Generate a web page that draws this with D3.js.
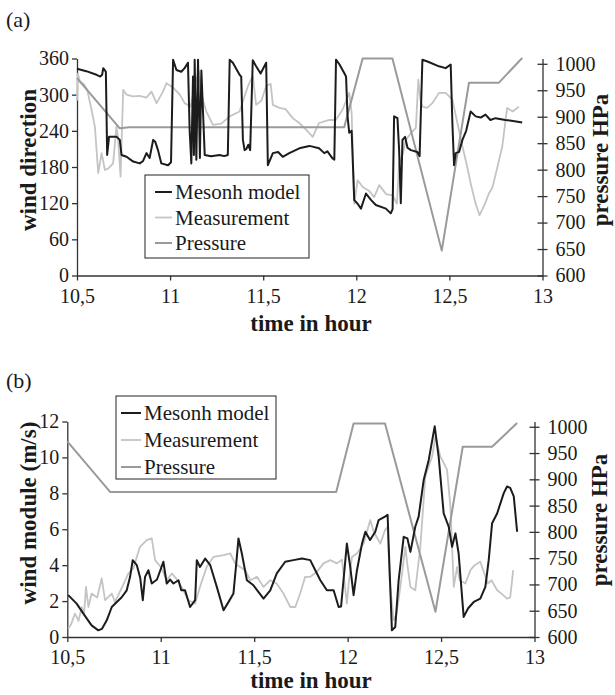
<!DOCTYPE html>
<html>
<head>
<meta charset="utf-8">
<script src="https://cdn.jsdelivr.net/npm/d3@7"></script>
<style>
body { margin: 0; background: #fff; }
svg text { font-family: "Liberation Serif", "Times New Roman", serif; fill: #1a1a1a; }
.axis path, .axis line { stroke: #333; stroke-width: 1.3; }
.axis text { font-size: 20px; }
.title { font-size: 23px; font-weight: bold; }
.panel { font-size: 22px; }
.legend text { font-size: 21px; }
</style>
</head>
<body>
<div id="chart"></div>
<script>
// ---- data: [time in hour, value] ----
var timeTicks = [10.5, 11, 11.5, 12, 12.5, 13],
  dirTicks = [0, 60, 120, 180, 240, 300, 360],
  speedTicks = [0, 2, 4, 6, 8, 10, 12],
  pressTicks = [600, 650, 700, 750, 800, 850, 900, 950, 1000],
  seriesNames = ["Mesonh model", "Measurement", "Pressure"];

var dirModel = [[10.50,343],[10.55,339],[10.605,333],[10.625,330],[10.635,333],[10.641,344],[10.655,338],[10.662,200],
  [10.672,230],[10.713,230],[10.73,225],[10.739,200],[10.766,197],[10.802,189],[10.837,186],[10.855,190],[10.873,203],
  [10.89,195],[10.909,225],[10.92,222],[10.935,208],[10.953,186],[10.989,183],[11.005,188],[11.016,358],[11.034,341],
  [11.06,338],[11.078,344],[11.096,353],[11.105,241],[11.114,186],[11.123,330],[11.128,200],[11.132,358],[11.141,192],
  [11.15,358],[11.16,195],[11.168,340],[11.186,200],[11.22,198],[11.266,200],[11.29,198],[11.31,200],[11.32,358],
  [11.337,353],[11.373,333],[11.382,330],[11.391,225],[11.40,208],[11.41,210],[11.42,217],[11.43,208],[11.444,357],
  [11.462,347],[11.486,335],[11.516,353],[11.525,183],[11.552,203],[11.58,205],[11.605,197],[11.64,203],[11.694,211],
  [11.748,215],[11.80,211],[11.828,203],[11.845,206],[11.873,194],[11.882,192],[11.891,358],[11.91,350],[11.935,336],
  [11.945,330],[11.953,264],[11.962,237],[11.975,240],[11.989,125],[12.007,119],[12.025,111],[12.052,136],[12.08,125],
  [12.105,117],[12.159,111],[12.185,103],[12.195,110],[12.203,264],[12.221,261],[12.23,208],[12.239,120],[12.248,225],
  [12.262,230],[12.275,212],[12.293,208],[12.328,205],[12.34,198],[12.355,358],[12.382,355],[12.444,347],[12.48,344],
  [12.507,350],[12.516,253],[12.525,183],[12.534,203],[12.552,205],[12.57,225],[12.59,240],[12.614,272],[12.641,264],
  [12.668,262],[12.694,267],[12.72,258],[12.748,261],[12.80,258],[12.85,256],[12.891,254]];

var dirMeas = [[10.50,290],[10.505,335],[10.515,322],[10.535,318],[10.555,308],[10.578,275],[10.596,247],[10.614,170],
  [10.632,203],[10.65,175],[10.67,178],[10.694,186],[10.712,247],[10.72,230],[10.734,164],[10.748,308],[10.766,300],
  [10.80,297],[10.837,298],[10.873,295],[10.90,305],[10.927,286],[10.962,305],[10.98,319],[11.015,312],[11.052,300],
  [11.078,286],[11.11,280],[11.141,325],[11.155,339],[11.168,300],[11.195,272],[11.23,250],[11.275,252],[11.32,264],
  [11.373,272],[11.418,314],[11.444,331],[11.462,283],[11.49,290],[11.516,314],[11.54,318],[11.552,283],[11.587,278],
  [11.62,276],[11.659,261],[11.694,253],[11.73,242],[11.766,230],[11.80,253],[11.855,258],[11.89,258],[11.926,275],
  [11.962,303],[11.975,270],[11.989,119],[12.007,158],[12.034,147],[12.07,140],[12.096,130],[12.123,150],[12.16,135],
  [12.195,133],[12.218,119],[12.23,186],[12.248,200],[12.266,225],[12.293,236],[12.32,245],[12.333,325],[12.345,290],
  [12.355,280],[12.38,278],[12.409,286],[12.444,303],[12.48,303],[12.516,292],[12.543,253],[12.57,214],[12.596,180],
  [12.614,153],[12.641,119],[12.662,100],[12.69,118],[12.712,136],[12.73,145],[12.748,167],[12.784,214],[12.81,278],
  [12.84,272],[12.873,280]];

var pressA = [[10.5,973],[10.73,878],[10.78,880],[11.935,880],[12.034,1010],[12.194,1010],[12.459,647],[12.605,964],
  [12.765,964],[12.891,1011]];

var speedModel = [[10.505,2.33],[10.55,1.86],[10.586,1.3],[10.63,0.65],[10.666,0.37],[10.685,0.45],[10.711,0.93],
  [10.738,1.67],[10.765,1.95],[10.79,2.2],[10.818,2.6],[10.836,3.35],[10.85,4.28],[10.872,4.0],[10.89,3.3],[10.904,2.05],
  [10.916,3.35],[10.934,3.72],[10.952,2.98],[10.98,3.2],[11.014,4.19],[11.032,2.98],[11.05,3.2],[11.068,2.98],[11.095,3.16],
  [11.11,2.6],[11.13,2.6],[11.157,1.67],[11.184,2.05],[11.193,4.28],[11.21,3.9],[11.238,4.37],[11.265,4.0],[11.30,2.79],
  [11.336,1.49],[11.36,1.9],[11.389,2.42],[11.405,4.2],[11.416,5.49],[11.434,4.65],[11.461,3.16],[11.496,2.88],[11.55,2.14],
  [11.586,2.6],[11.621,3.54],[11.666,4.19],[11.71,4.28],[11.756,4.37],[11.80,4.28],[11.827,3.72],[11.854,3.16],[11.889,2.6],
  [11.925,2.6],[11.952,1.67],[11.965,1.7],[11.996,5.2],[12.014,3.9],[12.032,2.33],[12.05,3.72],[12.077,5.2],[12.095,5.86],
  [12.12,5.4],[12.148,5.86],[12.166,6.51],[12.2,6.7],[12.214,6.8],[12.22,5.0],[12.237,0.37],[12.255,0.56],[12.273,3.16],
  [12.3,5.58],[12.32,5.49],[12.336,4.74],[12.362,6.14],[12.38,6.7],[12.407,8.74],[12.434,9.86],[12.466,11.73],[12.487,10.05],
  [12.514,6.88],[12.541,6.14],[12.559,5.02],[12.577,5.77],[12.594,4.65],[12.621,1.12],[12.645,1.6],[12.675,1.95],[12.71,2.14],
  [12.737,2.79],[12.755,4.28],[12.773,6.33],[12.8,6.88],[12.835,8.0],[12.853,8.38],[12.87,8.3],[12.889,7.83],[12.907,5.86]];

var speedMeas = [[10.505,0.47],[10.52,0.7],[10.541,1.3],[10.56,0.9],[10.577,1.67],[10.59,1.3],[10.6,2.79],[10.613,1.67],
  [10.63,2.42],[10.66,2.2],[10.684,3.26],[10.702,2.05],[10.738,2.42],[10.755,1.95],[10.79,2.7],[10.827,3.54],[10.853,3.81],
  [10.889,5.02],[10.925,5.4],[10.952,5.49],[10.97,4.28],[11.0,3.9],[11.032,3.16],[11.06,3.54],[11.09,3.16],[11.121,2.6],
  [11.148,2.05],[11.184,1.86],[11.21,2.79],[11.246,3.9],[11.282,4.46],[11.336,4.56],[11.372,4.65],[11.398,4.1],[11.425,3.9],
  [11.452,3.72],[11.479,3.16],[11.515,3.35],[11.55,2.79],[11.586,3.16],[11.62,2.98],[11.657,2.42],[11.693,1.67],[11.72,1.67],
  [11.746,2.42],[11.773,3.35],[11.8,3.35],[11.836,3.63],[11.871,4.1],[11.907,4.28],[11.943,4.1],[11.97,4.3],[11.996,1.86],
  [12.005,2.9],[12.023,4.46],[12.05,4.65],[12.086,5.2],[12.121,6.51],[12.14,5.86],[12.175,5.2],[12.2,5.95],[12.214,6.14],
  [12.225,3.16],[12.246,0.93],[12.262,1.3],[12.282,2.79],[12.309,5.02],[12.32,4.0],[12.336,2.79],[12.362,2.6],[12.389,5.02],
  [12.416,8.94],[12.452,10.05],[12.47,11.16],[12.496,10.05],[12.514,9.7],[12.532,9.3],[12.55,7.27],[12.568,2.79],[12.586,3.9],
  [12.6,3.16],[12.63,2.98],[12.657,3.72],[12.68,4.0],[12.71,4.19],[12.75,2.98],[12.77,3.16],[12.8,2.6],[12.825,2.4],
  [12.853,2.14],[12.87,2.2],[12.886,3.72]];

var pressB = [[10.5,972],[10.729,876],[11.939,876],[12.032,1006],[12.2,1006],[12.47,648],[12.616,962],[12.773,962],
  [12.907,1007]];

var colors = ["#1c1c1c", "#c4c4c4", "#9a9a9a"],
  widths = [2, 1.8, 2];

var svg = d3.select("#chart").append("svg")
  .attr("width", 615)
  .attr("height", 695);

function panel(p) {
  var x = d3.scaleLinear().domain([10.5, 13]).range([p.left, p.right]),
    y = d3.scaleLinear().domain(p.yDomain).range([p.bottom, p.top]),
    yp = d3.scaleLinear().domain([600, 1010]).range([p.bottom, p.top]);

  var g = svg.append("g");

  g.append("g").attr("class", "axis")
    .attr("transform", "translate(0," + p.bottom + ")")
    .call(d3.axisBottom(x).tickValues(timeTicks).tickSize(5).tickSizeOuter(0).tickPadding(8)
      .tickFormat(function(d){ return String(d).replace(".", ","); }))
    .attr("font-family", null).attr("font-size", null);

  g.append("g").attr("class", "axis")
    .attr("transform", "translate(" + p.left + ",0)")
    .call(d3.axisLeft(y).tickValues(p.yTicks).tickSize(5).tickSizeOuter(0).tickPadding(3))
    .attr("font-family", null).attr("font-size", null);

  var ra = g.append("g").attr("class", "axis")
    .attr("transform", "translate(" + p.right + ",0)")
    .call(d3.axisRight(yp).tickValues(pressTicks).tickFormat(d3.format("d"))
      .tickSize(5).tickSizeOuter(0).tickPadding(8))
    .attr("font-family", null).attr("font-size", null);
  ra.selectAll(".tick line").attr("x1", -5);

  var line = function(sc){
    return d3.line().x(function(d){ return x(d[0]); }).y(function(d){ return sc(d[1]); });
  };

  var series = [[p.model, y], [p.meas, y], [p.press, yp]];
  [1, 2, 0].forEach(function(i){
    g.append("path")
      .attr("d", line(series[i][1])(series[i][0]))
      .attr("fill", "none")
      .attr("stroke", colors[i])
      .attr("stroke-width", widths[i])
      .attr("stroke-linejoin", "round");
  });

  // axis titles
  g.append("text").attr("class", "title")
    .attr("transform", "translate(" + p.ylabX + "," + p.ylabY + ") rotate(-90)")
    .style("text-anchor", "middle")
    .text(p.ylab);
  g.append("text").attr("class", "title")
    .attr("transform", "translate(" + p.rlabX + "," + p.rlabY + ") rotate(-90)")
    .style("text-anchor", "middle")
    .text("pressure HPa");
  g.append("text").attr("class", "title")
    .attr("x", 311).attr("y", p.bottom + p.xlabGap)
    .style("text-anchor", "middle")
    .text("time in hour");
  g.append("text").attr("class", "panel")
    .attr("x", 6).attr("y", p.tagY)
    .text(p.tag);

  // legend
  var lg = g.append("g").attr("class", "legend")
    .attr("transform", "translate(" + p.legX + "," + p.legY + ")");
  lg.append("rect")
    .attr("width", p.legW).attr("height", 83)
    .attr("fill", "#fff").attr("stroke", "#222").attr("stroke-width", 1);
  seriesNames.forEach(function(name, i){
    var cy = 17 + i * p.legGap;
    lg.append("line")
      .attr("x1", p.legLine[0]).attr("x2", p.legLine[1])
      .attr("y1", cy).attr("y2", cy)
      .attr("stroke", colors[i]).attr("stroke-width", widths[i]);
    lg.append("text")
      .attr("x", p.legLine[1] + 3).attr("y", cy + 7)
      .text(name);
  });
}

panel({
  tag: "(a)", tagY: 27,
  left: 77, right: 542.5, top: 58.5, bottom: 275.5,
  yDomain: [0, 360], yTicks: dirTicks,
  model: dirModel, meas: dirMeas, press: pressA,
  ylab: "wind direction", ylabX: 36, ylabY: 160,
  rlabX: 608, rlabY: 160, xlabGap: 55,
  legX: 145, legY: 175, legW: 164, legGap: 25.5, legLine: [10, 27]
});

panel({
  tag: "(b)", tagY: 388,
  left: 67.3, right: 534.5, top: 421.5, bottom: 637,
  yDomain: [0, 12], yTicks: speedTicks,
  model: speedModel, meas: speedMeas, press: pressB,
  ylab: "wind module (m/s)", ylabX: 36, ylabY: 513,
  rlabX: 607, rlabY: 520, xlabGap: 51,
  legX: 116, legY: 396, legW: 160, legGap: 27, legLine: [5, 25]
});
</script>
</body>
</html>
